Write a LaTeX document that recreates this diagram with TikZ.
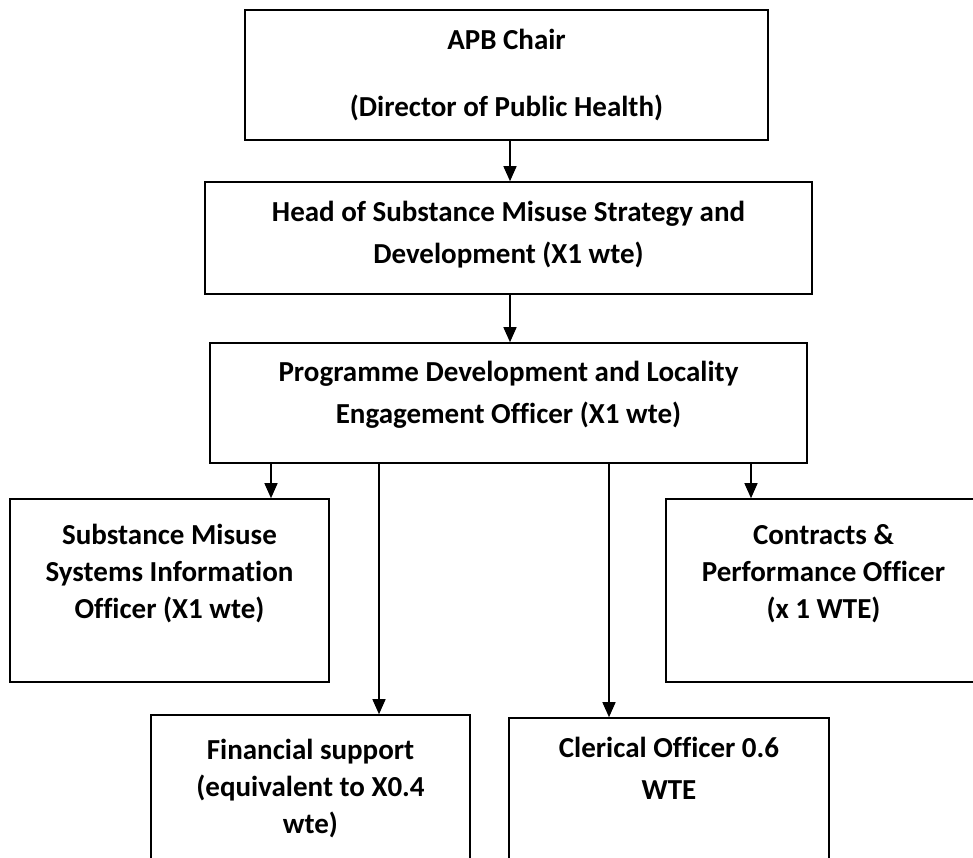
\documentclass[tikz,border=0pt]{standalone}
\usepackage{fontspec}
\setmainfont{Carlito}[Ligatures=NoCommon]
\usetikzlibrary{arrows.meta}
\begin{document}
\begin{tikzpicture}[x=1pt,y=-1pt,
  box/.style={draw=black,line width=1.6pt,inner sep=0pt,fill=none},
  txt/.style={align=center,inner sep=0pt,font=\bfseries\fontsize{29}{#1}\selectfont},
  conn/.style={line width=1.4pt,-{Triangle[length=15pt,width=13pt]}}]
\useasboundingbox (0,0) rectangle (973,857);
\clip (0,0) rectangle (973,857);
% boxes
\node[box,minimum width=523pt,minimum height=130pt] (apb) at (506.5,75) {};
\node[box,minimum width=607pt,minimum height=112pt] (head) at (508.5,238) {};
\node[box,minimum width=597pt,minimum height=120pt] (prog) at (508.5,403) {};
\node[box,minimum width=319pt,minimum height=183pt] (sub) at (169.5,590.5) {};
\node[box,minimum width=315pt,minimum height=183pt] (con) at (823.5,590.5) {};
\node[box,minimum width=319pt,minimum height=185pt] (fin) at (310.5,807.5) {};
\node[box,minimum width=320pt,minimum height=182pt] (cler) at (669,809) {};
% texts
\node[txt=67] (apbT) at (506.5,75) {APB Chair\\(Director of Public Health)};
\node[txt=42] (headT) at (508.5,234.5) {Head of Substance Misuse Strategy and\\Development (X1 wte)};
\node[txt=42] (progT) at (508.5,394.5) {Programme Development and Locality\\Engagement Officer (X1 wte)};
\node[txt=36.7] (subT) at (169.5,573.5) {Substance Misuse\\Systems Information\\Officer (X1 wte)};
\node[txt=36.7] (conT) at (823.5,573.5) {Contracts \&\\Performance Officer\\(x 1 WTE)};
\node[txt=36.7] (finT) at (310.5,788.5) {Financial support\\(equivalent to X0.4\\wte)};
\node[txt=42] (clerT) at (669,768.5) {Clerical Officer 0.6\\WTE};
% connectors
\draw[conn] (apb.south -| 510,0) -- (head.north -| 510,0);
\draw[conn] (head.south -| 510,0) -- (prog.north -| 510,0);
\draw[conn] (prog.south -| 271,0) -- (sub.north -| 271,0);
\draw[conn] (prog.south -| 379,0) -- (fin.north -| 379,0);
\draw[conn] (prog.south -| 609,0) -- (cler.north -| 609,0);
\draw[conn] (prog.south -| 751,0) -- (con.north -| 751,0);
\end{tikzpicture}
\end{document}
